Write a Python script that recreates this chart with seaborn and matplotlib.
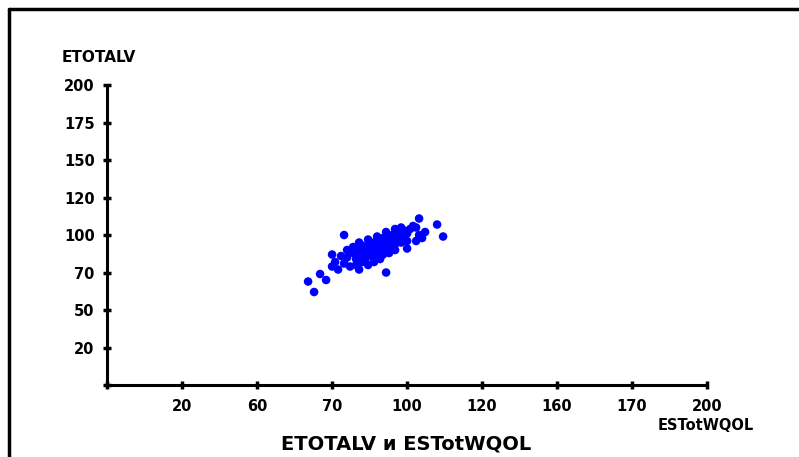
import numpy as np
import pandas as pd
import seaborn as sns
import matplotlib
matplotlib.use("Agg")
import matplotlib.pyplot as plt
from matplotlib.lines import Line2D

# scatter values
estot_wqol = [104, 110, 112, 79, 75, 100, 93, 84, 67, 69, 73, 75, 77, 105, 103, 98,
              80, 82, 83, 84, 85, 86, 86, 87, 88, 88, 89, 90, 90, 91, 92, 92, 93, 94,
              95, 95, 96, 97, 98, 99, 100, 101, 100, 98, 96, 94, 91, 89, 87, 85, 83,
              81, 79, 84, 87, 90, 93, 96, 102, 104, 106, 103, 88, 92, 86, 94, 97, 99,
              91, 89, 85, 82, 78, 80, 76, 71,
              86, 88, 90, 92, 94, 96, 84, 89, 93, 95]
etotalv = [111, 107, 99, 100, 87, 91, 75, 77, 69, 62, 70, 79, 77, 98, 105, 105,
           85, 88, 84, 90, 87, 92, 85, 89, 94, 88, 91, 86, 96, 93, 90, 98, 95, 92,
           100, 97, 94, 102, 99, 103, 101, 104, 96, 95, 90, 88, 84, 82, 80, 82, 80,
           79, 81, 95, 97, 99, 102, 104, 106, 100, 102, 96, 86, 87, 83, 97, 98, 97,
           90, 95, 93, 92, 86, 90, 82, 74,
           90, 92, 94, 95, 96, 98, 87, 89, 91, 93]

ticks = [25, 50, 75, 100, 125, 150, 175, 200]
x_ticklabels = ['20', '60', '70', '100', '120', '160', '170', '200']
y_ticklabels = ['20', '50', '70', '100', '120', '150', '175', '200']

df = pd.DataFrame({'ESTotWQOL': estot_wqol, 'ETOTALV': etotalv})

sns.set_theme(style="white")
plt.rcParams['font.family'] = ['DejaVu Sans']

fig = plt.figure(figsize=(7.99, 4.57), dpi=100)
ax = fig.add_axes([0.134, 0.1575, 0.751, 0.6565])

sns.scatterplot(data=df, x='ESTotWQOL', y='ETOTALV', ax=ax, color='#0000ff',
                s=38, edgecolor='none', linewidth=0, legend=False)

ax.set_xlim(0, 200)
ax.set_ylim(0, 200)
ax.set_xticks([0] + ticks)
ax.set_xticklabels([''] + x_ticklabels)
ax.set_yticks([0] + ticks)
ax.set_yticklabels([''] + y_ticklabels)
ax.set_xlabel('')
ax.set_ylabel('')

for s in ['top', 'right']:
    ax.spines[s].set_visible(False)
for s in ['left', 'bottom']:
    ax.spines[s].set_color('black')
    ax.spines[s].set_linewidth(2.2)

ax.tick_params(axis='both', bottom=True, left=True, direction='inout', length=6,
               width=2.5, color='black', labelsize=10.5, labelcolor='black')
ax.tick_params(axis='x', pad=7)
ax.tick_params(axis='y', pad=6)
for lab in ax.get_xticklabels() + ax.get_yticklabels():
    lab.set_fontweight('bold')

fig.text(62 / 799, 1 - 57 / 457, 'ETOTALV', fontsize=11, fontweight='bold',
         color='black', ha='left', va='center')
fig.text(706 / 799, 1 - 425 / 457, 'ESTotWQOL', fontsize=10.5, fontweight='bold',
         color='black', ha='center', va='center')
fig.text(406 / 799, 1 - 444 / 457, 'ETOTALV и ESTotWQOL', fontsize=14,
         fontweight='bold', color='black', ha='center', va='center')

# outer frame (left and top edges visible)
fig.add_artist(Line2D([9 / 799, 9 / 799], [0, 1 - 9 / 457], transform=fig.transFigure,
                      color='black', linewidth=2.5))
fig.add_artist(Line2D([9 / 799, 1], [1 - 9 / 457, 1 - 9 / 457], transform=fig.transFigure,
                      color='black', linewidth=2.5))

fig.savefig('out.png', dpi=100)
